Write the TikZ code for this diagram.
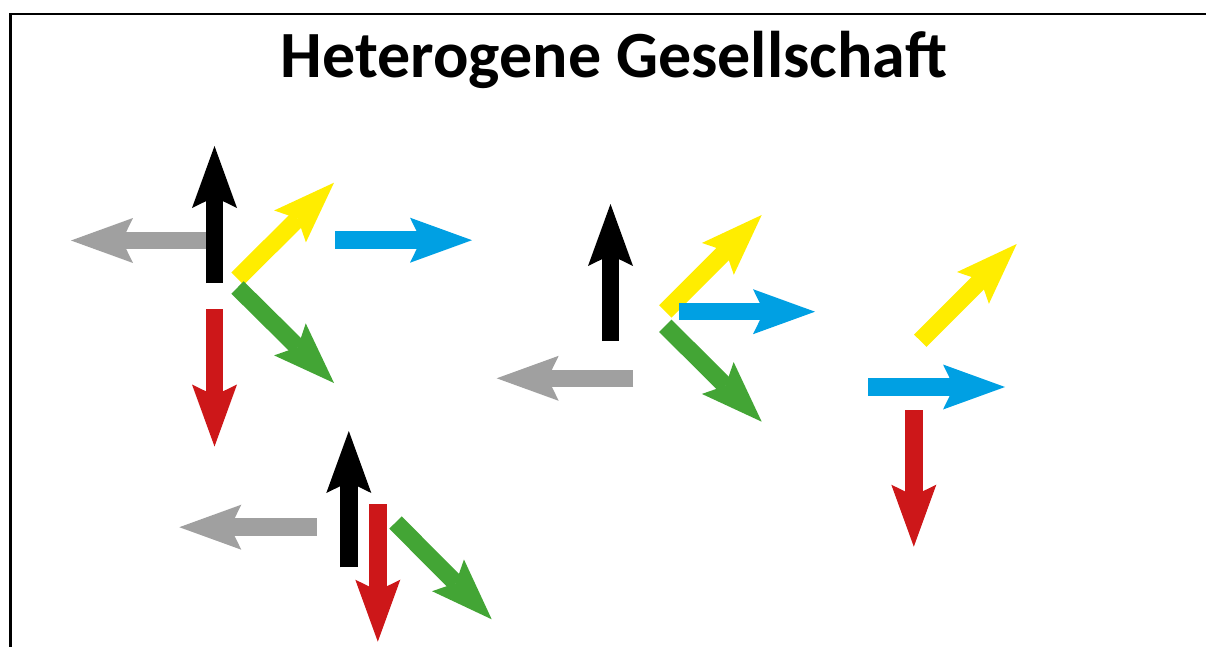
\documentclass[tikz,border=0pt]{standalone}
\usepackage{fontspec}
\setmainfont{Carlito}
\usetikzlibrary{arrows.meta}
\definecolor{agray}{RGB}{160,160,160}
\definecolor{ayellow}{RGB}{255,237,0}
\definecolor{ablue}{RGB}{0,160,227}
\definecolor{ared}{RGB}{205,23,25}
\definecolor{agreen}{RGB}{67,165,53}
\tikzset{
  fatarrow/.style={line width=17.5pt, line cap=butt,
    -{Stealth[length=62pt,width=45pt,inset=11pt,line width=0pt]}},
  frame/.style={line width=2.5pt, line cap=butt, line join=miter}
}
\begin{document}
\begin{tikzpicture}[x=1pt,y=-1pt]
\useasboundingbox (0,0) rectangle (1206,647);
\coordinate (fA) at (10.3,647);
\coordinate (fB) at (10.3,13.8);
\coordinate (fC) at (1206,13.8);
\draw[frame] (fA) -- (fB) -- (fC);
\node[anchor=base, inner sep=0pt, font=\bfseries\fontsize{66}{79}\selectfont] (title) at (614,78) {Heterogene Gesellschaft};
% group 1
\coordinate (a1s) at (214.5,283);   \coordinate (a1e) at (214.5,146);
\coordinate (b1s) at (206,240.5);   \coordinate (b1e) at (71,240.5);
\coordinate (c1s) at (237.5,278.7); \coordinate (c1e) at (334,182.7);
\coordinate (d1s) at (335,240.2);   \coordinate (d1e) at (472,240.2);
\coordinate (e1s) at (214.5,309.3); \coordinate (e1e) at (214.5,446.5);
\coordinate (f1s) at (237.5,287.5); \coordinate (f1e) at (334,383);
\draw[fatarrow, black] (a1s) -- (a1e);
\draw[fatarrow, agray] (b1s) -- (b1e);
\draw[fatarrow, ayellow] (c1s) -- (c1e);
\draw[fatarrow, ablue] (d1s) -- (d1e);
\draw[fatarrow, ared] (e1s) -- (e1e);
\draw[fatarrow, agreen] (f1s) -- (f1e);
% group 2
\coordinate (a2s) at (610.5,341);   \coordinate (a2e) at (610.5,204);
\coordinate (b2s) at (633.3,378.3); \coordinate (b2e) at (496.7,378.3);
\coordinate (c2s) at (665.3,311.5); \coordinate (c2e) at (761.7,215);
\coordinate (d2s) at (679,311.7);   \coordinate (d2e) at (815,311.7);
\coordinate (f2s) at (665.3,325.8); \coordinate (f2e) at (761.7,421.7);
\draw[fatarrow, black] (a2s) -- (a2e);
\draw[fatarrow, agray] (b2s) -- (b2e);
\draw[fatarrow, ayellow] (c2s) -- (c2e);
\draw[fatarrow, ablue] (d2s) -- (d2e);
\draw[fatarrow, agreen] (f2s) -- (f2e);
% group 3
\coordinate (c3s) at (920.3,340.8); \coordinate (c3e) at (1016.7,244);
\coordinate (d3s) at (868.3,387);   \coordinate (d3e) at (1005,387);
\coordinate (e3s) at (913.8,410);   \coordinate (e3e) at (913.8,546.7);
\draw[fatarrow, ayellow] (c3s) -- (c3e);
\draw[fatarrow, ablue] (d3s) -- (d3e);
\draw[fatarrow, ared] (e3s) -- (e3e);
% group 4
\coordinate (a4s) at (348.8,567.3); \coordinate (a4e) at (348.8,431);
\coordinate (b4s) at (316.7,527.2); \coordinate (b4e) at (179.3,527.2);
\coordinate (e4s) at (377.8,504.3); \coordinate (e4e) at (377.8,641.7);
\coordinate (f4s) at (395.5,522.5); \coordinate (f4e) at (491.7,619.3);
\draw[fatarrow, black] (a4s) -- (a4e);
\draw[fatarrow, agray] (b4s) -- (b4e);
\draw[fatarrow, ared] (e4s) -- (e4e);
\draw[fatarrow, agreen] (f4s) -- (f4e);
\end{tikzpicture}
\end{document}
